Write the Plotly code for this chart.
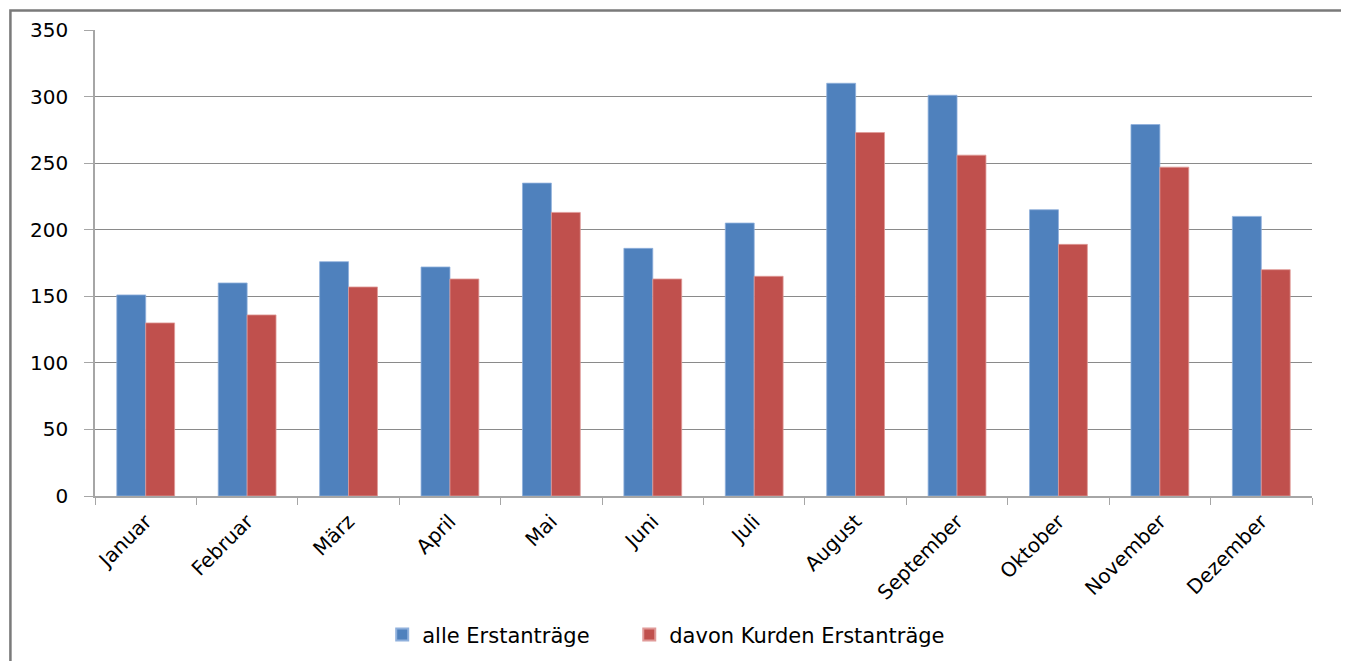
import plotly.graph_objects as go

months = ["Januar", "Februar", "März", "April", "Mai", "Juni", "Juli",
          "August", "September", "Oktober", "November", "Dezember"]
alle = [151, 160, 176, 172, 235, 186, 205, 310, 301, 215, 279, 210]
kurden = [130, 136, 157, 163, 213, 163, 165, 273, 256, 189, 247, 170]
y_ticks = [0, 50, 100, 150, 200, 250, 300, 350]

FONT = "'DejaVu Sans', sans-serif"

fig = go.Figure()
fig.add_trace(go.Bar(x=months, y=alle, name="alle Erstanträge", legend="legend",
                     marker=dict(color="#4F81BD", line=dict(color="#8fb0dc", width=0.8))))
fig.add_trace(go.Bar(x=months, y=kurden, name="davon Kurden Erstanträge", legend="legend2",
                     marker=dict(color="#C0504D", line=dict(color="#e09a98", width=0.8))))

legend_common = dict(orientation="h", xanchor="left", y=-0.298, yanchor="middle",
                     font=dict(family=FONT, size=21), itemsizing="constant",
                     bgcolor="rgba(0,0,0,0)")

fig.update_layout(
    width=1341, height=653,
    margin=dict(l=87, r=37, t=22, b=165, autoexpand=False),
    paper_bgcolor="white", plot_bgcolor="white",
    barmode="group", bargap=0.43, bargroupgap=0,
    font=dict(family=FONT, size=20, color="#000000"),
    showlegend=True,
    legend=dict(x=0.236, **legend_common),
    legend2=dict(x=0.439, **legend_common),
    shapes=[dict(type="rect", xref="paper", yref="paper",
                 x0=-0.0695, x1=1.0255, y0=-0.4, y1=1.042,
                 line=dict(color="#7a7a7a", width=2.5), layer="below")],
)
fig.update_xaxes(
    type="category", tickangle=-45, showgrid=False, automargin=False,
    showline=True, linecolor="#a6a6a6", linewidth=1.5,
    ticks="outside", tickson="boundaries", ticklen=7, tickcolor="#a6a6a6",
    ticklabelstandoff=4,
    tickfont=dict(family=FONT, size=20),
)
fig.update_yaxes(
    range=[0, 350], tickvals=y_ticks, showgrid=True, gridcolor="#8a8a8a", gridwidth=1,
    showline=True, linecolor="#a6a6a6", linewidth=1.5, automargin=False,
    ticks="outside", ticklen=9, tickcolor="#a6a6a6", ticklabelstandoff=12,
    tickfont=dict(family=FONT, size=20), zeroline=False,
)

fig.write_html("out.html")
